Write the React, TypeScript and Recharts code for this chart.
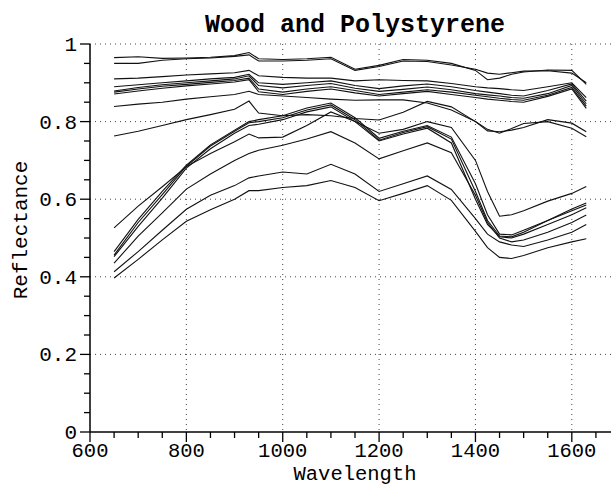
import { LineChart, Line, XAxis, YAxis, CartesianGrid } from "recharts";

const wavelengths = [650, 700, 750, 800, 850, 900, 930, 950, 1000, 1050, 1100, 1150, 1200, 1250, 1300, 1350, 1400, 1425, 1450, 1475, 1500, 1550, 1600, 1630];

// polystyrene: flat, high reflectance
const poly1 = [0.965, 0.967, 0.963, 0.964, 0.966, 0.97, 0.978, 0.962, 0.96, 0.962, 0.966, 0.935, 0.945, 0.96, 0.958, 0.95, 0.932, 0.908, 0.912, 0.922, 0.928, 0.933, 0.932, 0.896];
const poly2 = [0.95, 0.95, 0.958, 0.962, 0.964, 0.968, 0.972, 0.956, 0.956, 0.958, 0.962, 0.932, 0.942, 0.956, 0.955, 0.946, 0.935, 0.925, 0.922, 0.926, 0.93, 0.931, 0.925, 0.9];
const poly3 = [0.91, 0.912, 0.916, 0.92, 0.923, 0.926, 0.932, 0.918, 0.914, 0.912, 0.912, 0.905, 0.908, 0.906, 0.905, 0.898, 0.89, 0.887, 0.885, 0.882, 0.88, 0.89, 0.9, 0.862];
const poly4 = [0.89, 0.895, 0.9, 0.905, 0.91, 0.914, 0.922, 0.9, 0.896, 0.9, 0.905, 0.893, 0.885, 0.892, 0.897, 0.89, 0.88, 0.876, 0.872, 0.868, 0.866, 0.88, 0.897, 0.853];
const poly5 = [0.879, 0.888, 0.895, 0.9, 0.905, 0.91, 0.918, 0.893, 0.887, 0.893, 0.898, 0.886, 0.878, 0.883, 0.889, 0.882, 0.872, 0.869, 0.866, 0.862, 0.86, 0.872, 0.893, 0.846];
const poly6 = [0.876, 0.884, 0.891, 0.896, 0.901, 0.906, 0.912, 0.884, 0.876, 0.884, 0.89, 0.88, 0.87, 0.876, 0.882, 0.876, 0.868, 0.864, 0.86, 0.857, 0.855, 0.868, 0.888, 0.84];
const poly7 = [0.871, 0.879, 0.886, 0.892, 0.897, 0.902, 0.908, 0.877, 0.87, 0.878, 0.884, 0.874, 0.866, 0.872, 0.878, 0.87, 0.862, 0.858, 0.855, 0.852, 0.85, 0.865, 0.884, 0.834];
const poly8 = [0.839, 0.845, 0.85, 0.858, 0.864, 0.87, 0.878, 0.87, 0.866, 0.862, 0.858, 0.855, 0.856, 0.856, 0.848, 0.83, 0.8, 0.78, 0.77, 0.782, 0.795, 0.8, 0.783, 0.761];
const poly9 = [0.763, 0.775, 0.79, 0.805, 0.818, 0.832, 0.853, 0.822, 0.815, 0.818, 0.815, 0.808, 0.804, 0.824, 0.852, 0.838, 0.8, 0.776, 0.774, 0.778, 0.785, 0.805, 0.796, 0.774];

// wood: rising curve, water dip near 1450
const wood1 = [0.526, 0.582, 0.632, 0.684, 0.718, 0.748, 0.768, 0.758, 0.76, 0.79, 0.825, 0.8, 0.77, 0.78, 0.8, 0.785, 0.7, 0.62, 0.556, 0.56, 0.57, 0.595, 0.615, 0.633];
const wood2 = [0.465, 0.548, 0.62, 0.688, 0.74, 0.778, 0.8, 0.805, 0.815, 0.835, 0.848, 0.81, 0.757, 0.775, 0.79, 0.76, 0.64, 0.56, 0.51, 0.508, 0.52, 0.545, 0.575, 0.59];
const wood3 = [0.456, 0.54, 0.612, 0.685, 0.737, 0.775, 0.797, 0.8, 0.81, 0.83, 0.843, 0.805, 0.752, 0.772, 0.787, 0.755, 0.62, 0.545, 0.505, 0.503, 0.515, 0.545, 0.57, 0.585];
const wood4 = [0.452, 0.53, 0.603, 0.68, 0.73, 0.77, 0.79, 0.793, 0.805, 0.825, 0.838, 0.8, 0.75, 0.768, 0.783, 0.745, 0.6, 0.535, 0.503, 0.5, 0.51, 0.535, 0.56, 0.578];
const wood5 = [0.435, 0.505, 0.565, 0.626, 0.665, 0.7, 0.718, 0.726, 0.739, 0.755, 0.774, 0.745, 0.704, 0.725, 0.745, 0.72, 0.61, 0.54, 0.5, 0.49, 0.495, 0.515, 0.54, 0.559];
const wood6 = [0.413, 0.465, 0.52, 0.574, 0.61, 0.635, 0.655, 0.66, 0.67, 0.665, 0.69, 0.665, 0.62, 0.64, 0.66, 0.625, 0.55, 0.51, 0.49, 0.482, 0.478, 0.495, 0.515, 0.535];
const wood7 = [0.397, 0.445, 0.495, 0.543, 0.573, 0.6, 0.622, 0.622, 0.63, 0.635, 0.648, 0.63, 0.596, 0.615, 0.635, 0.597, 0.517, 0.475, 0.45, 0.447, 0.455, 0.475, 0.49, 0.498];

const series = [poly1, poly2, poly3, poly4, poly5, poly6, poly7, poly8, poly9, wood1, wood2, wood3, wood4, wood5, wood6, wood7];

const xTicks = [600, 650, 700, 750, 800, 850, 900, 950, 1000, 1050, 1100, 1150, 1200, 1250, 1300, 1350, 1400, 1450, 1500, 1550, 1600, 1650, 1700];
const xLabels = [600, 800, 1000, 1200, 1400, 1600];
const yTicks = [0, 0.05, 0.1, 0.15, 0.2, 0.25, 0.3, 0.35, 0.4, 0.45, 0.5, 0.55, 0.6, 0.65, 0.7, 0.75, 0.8, 0.85, 0.9, 0.95, 1];
const yLabels = [0, 0.2, 0.4, 0.6, 0.8, 1];

const rows = wavelengths.map((wl, i) => {
  const row: Record<string, number> = { wl };
  series.forEach((s, j) => {
    row["s" + j] = s[i];
  });
  return row;
});

const FONT = "'Liberation Mono', 'Courier New', monospace";

function XTick(props: any) {
  const { x, y, payload } = props;
  const major = xLabels.includes(payload.value);
  return (
    <g>
      <line x1={x} y1={y} x2={x} y2={y + (major ? 10 : 6)} stroke="#000" strokeWidth={1.3} />
      {major && (
        <text x={x} y={y + 25} textAnchor="middle" fontFamily={FONT} fontSize={20.5} fill="#000">
          {payload.value}
        </text>
      )}
    </g>
  );
}

function YTick(props: any) {
  const { x, y, payload } = props;
  const major = yLabels.some((v) => Math.abs(v - payload.value) < 1e-6);
  return (
    <g>
      <line x1={x} y1={y} x2={x - (major ? 10 : 6)} y2={y} stroke="#000" strokeWidth={1.3} />
      {major && (
        <text x={x - 13} y={y + 7} textAnchor="end" fontFamily={FONT} fontSize={21} fill="#000">
          {String(payload.value)}
        </text>
      )}
    </g>
  );
}

export default function App() {
  return (
    <div
      style={{
        position: "fixed",
        left: 0,
        top: 0,
        width: 611,
        height: 485,
        overflow: "hidden",
        background: "#fff",
      }}
    >
      <LineChart width={640} height={485} data={rows} margin={{ top: 44, right: 20, bottom: 0, left: 0 }}>
        <CartesianGrid
          stroke="#444"
          strokeDasharray="1 4"
          horizontalValues={[0.2, 0.4, 0.6, 0.8, 1]}
          verticalValues={[800, 1000, 1200, 1400, 1600]}
        />
        <XAxis
          dataKey="wl"
          type="number"
          domain={[600, 1700]}
          ticks={xTicks}
          interval={0}
          tickSize={0}
          tickMargin={0}
          tick={<XTick />}
          axisLine={{ stroke: "#000", strokeWidth: 1.5 }}
          height={53}
        />
        <YAxis
          type="number"
          domain={[0, 1]}
          ticks={yTicks}
          interval={0}
          tickSize={0}
          tickMargin={0}
          tick={<YTick />}
          axisLine={{ stroke: "#000", strokeWidth: 1.5 }}
          width={90}
        />
        {series.map((_, j) => (
          <Line
            key={j}
            type="linear"
            dataKey={"s" + j}
            stroke="#111"
            strokeWidth={1.1}
            dot={false}
            isAnimationActive={false}
          />
        ))}
      </LineChart>
      <svg width={611} height={485} style={{ position: "absolute", left: 0, top: 0, pointerEvents: "none" }}>
        <text x={355} y={32} textAnchor="middle" fontFamily={FONT} fontWeight="bold" fontSize={25} fill="#000">
          Wood and Polystyrene
        </text>
        <text x={355} y={480} textAnchor="middle" fontFamily={FONT} fontSize={20.5} fill="#000">
          Wavelength
        </text>
        <text
          x={27}
          y={230}
          textAnchor="middle"
          fontFamily={FONT}
          fontSize={21}
          fill="#000"
          transform="rotate(-90 27 230)"
        >
          Reflectance
        </text>
      </svg>
    </div>
  );
}
